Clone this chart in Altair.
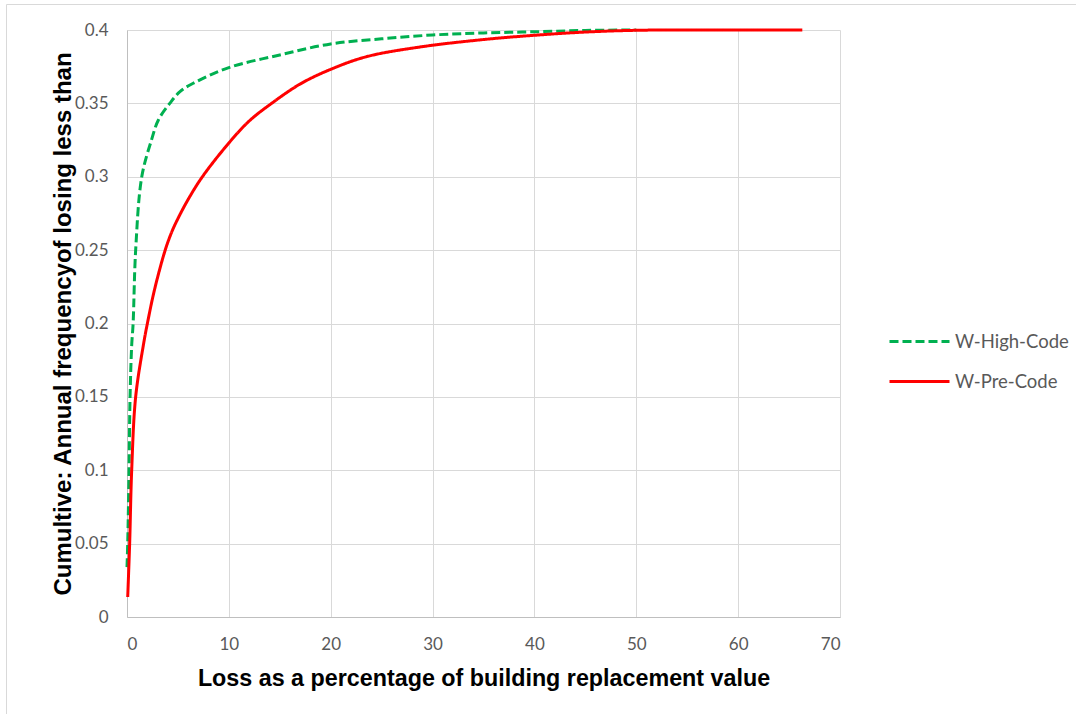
import altair as alt
import pandas as pd

# Series names as shown in the legend
series_names = ["W-High-Code", "W-Pre-Code"]

# W-High-Code: loss (% of replacement value) vs cumulative annual frequency
high_x = [0.0, 0.07, 0.2, 0.3, 0.46, 0.6, 0.85, 1.45, 2.4, 3.08, 4.2, 5.2,
          6.5, 10, 15, 20, 25, 30, 35, 40, 45, 50]
high_y = [0.034, 0.05, 0.1, 0.15, 0.185, 0.2, 0.25, 0.3, 0.325, 0.3387, 0.35,
          0.358, 0.3637, 0.3744, 0.383, 0.3905, 0.394, 0.3966, 0.398, 0.3988,
          0.3997, 0.4]

# W-Pre-Code
pre_x = [0.07, 0.26, 0.46, 0.85, 1.65, 2.0, 2.7, 3.75, 4.4, 5.0, 6.0, 7.4, 10,
         12, 14, 17, 20, 23.5, 28.75, 35, 40, 45, 50, 55, 60, 66.3]
pre_y = [0.0136, 0.05, 0.1, 0.15, 0.187, 0.2, 0.223, 0.25, 0.2625, 0.2715,
         0.2845, 0.3, 0.323, 0.338, 0.349, 0.3632, 0.3732, 0.3818, 0.3884,
         0.3935, 0.3964, 0.3986, 0.3998, 0.4, 0.4, 0.4]

# Axis tick values
x_ticks = [0, 10, 20, 30, 40, 50, 60, 70]
y_ticks = [0, 0.05, 0.1, 0.15, 0.2, 0.25, 0.3, 0.35, 0.4]

x_title = "Loss as a percentage of building replacement value"
y_title = "Cumultive: Annual frequencyof losing less than"

rows = []
for i, (xs, ys) in enumerate([(high_x, high_y), (pre_x, pre_y)]):
    for j, (xv, yv) in enumerate(zip(xs, ys)):
        rows.append({"series": series_names[i], "loss": xv, "freq": yv, "order": j})
df = pd.DataFrame(rows)

TICK_FONT = "Lato"
TITLE_FONT = "Liberation Sans"
GRAY = "#595959"

PLOT_W, PLOT_H = 713, 587

lines = alt.Chart(df).mark_line(
    interpolate="catmull-rom", strokeWidth=3, clip=False
).encode(
    x=alt.X(
        "loss:Q",
        scale=alt.Scale(domain=[0, 70], nice=False, zero=True),
        axis=alt.Axis(
            values=x_ticks, title=x_title, format="d",
            titleX=PLOT_W / 2, titleY=68, titleBaseline="alphabetic",
            titleAnchor="middle", titleFontSize=23.3,
        ),
    ),
    y=alt.Y(
        "freq:Q",
        scale=alt.Scale(domain=[0, 0.4], nice=False, zero=True),
        axis=alt.Axis(
            values=y_ticks, title=y_title, format=".2~f",
            titleX=-57, titleY=PLOT_H / 2, titleAngle=-90,
            titleBaseline="alphabetic", titleAnchor="middle",
            titleFontSize=24,
        ),
    ),
    color=alt.Color(
        "series:N",
        scale=alt.Scale(domain=series_names, range=["#00B050", "#FF0000"]),
        title=None,
    ),
    strokeDash=alt.StrokeDash(
        "series:N",
        scale=alt.Scale(domain=series_names, range=[[9, 4], [1, 0]]),
        title=None,
    ),
    order="order:Q",
)

# Light outer frame of the chart area
frame = alt.Chart(alt.Data(values=[{}])).mark_rect(
    fill="transparent", stroke="#D9D9D9", strokeWidth=1, clip=False
).encode(
    x=alt.value(-120.5), x2=alt.value(1000),
    y=alt.value(-25.5), y2=alt.value(800),
)

chart = alt.layer(frame, lines).properties(
    width=PLOT_W,
    height=PLOT_H,
    autosize=alt.AutoSizeParams(type="none"),
    padding={"left": 127, "top": 30, "right": 236, "bottom": 97},
    background="white",
).configure_view(
    strokeWidth=0,
).configure_axis(
    grid=True,
    gridColor="#D9D9D9",
    gridWidth=1,
    domainColor="#BFBFBF",
    domainWidth=1,
    ticks=False,
    labelFont=TICK_FONT,
    labelFontSize=17,
    labelColor=GRAY,
    labelPadding=19,
    titleFont=TITLE_FONT,
    titleFontWeight="bold",
    titleColor="#000000",
).configure_legend(
    orient="none",
    legendX=761,
    legendY=300,
    symbolType="M-1,0H5",
    symbolSize=400,
    symbolStrokeWidth=3,
    labelFont=TICK_FONT,
    labelFontSize=18.5,
    labelColor=GRAY,
    labelOffset=44,
    rowPadding=19,
    padding=0,
)

chart.save("out.html", embed_options={"renderer": "svg", "actions": False})
